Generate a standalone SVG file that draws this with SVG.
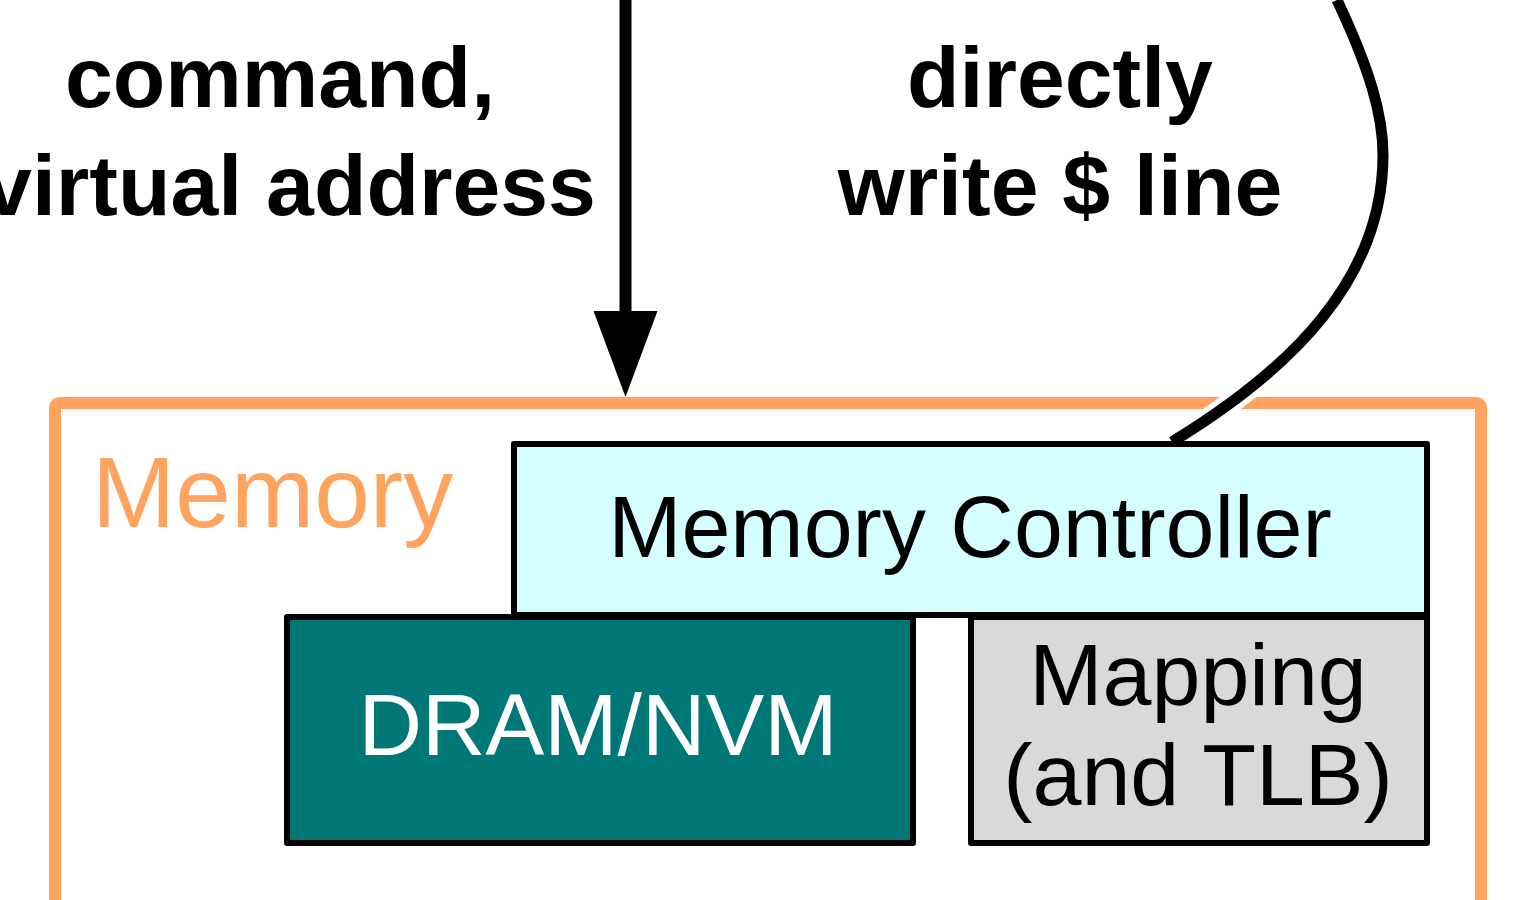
<svg xmlns="http://www.w3.org/2000/svg" width="1527" height="900" viewBox="0 0 1527 900">
<style>
.lbl{font-family:"Liberation Sans",Arial,sans-serif;font-weight:bold;font-size:86px;fill:#000;text-anchor:middle}
.box{stroke:#000;stroke-width:6;stroke-linejoin:round}
.bt{font-family:"Liberation Sans",Arial,sans-serif;font-size:88px;text-anchor:middle}
</style>
<defs>
<marker id="ah" markerUnits="userSpaceOnUse" markerWidth="86" markerHeight="64" refX="19" refY="32" orient="auto" viewBox="0 0 86 64">
<path d="M0,0 L86,32 L0,64 Z" fill="#000"/>
</marker>
</defs>
<rect width="1527" height="900" fill="#fff"/>
<g id="memory">
<rect x="55" y="403" width="1426" height="620" rx="5" fill="none" stroke="#FFA35F" stroke-width="12"/>
<text x="92" y="527" font-family="Liberation Sans,Arial,sans-serif" font-size="100" fill="#FFA35F">Memory</text>
</g>
<g id="connectors">
<line x1="625.5" y1="0" x2="625.5" y2="330" stroke="#000" stroke-width="12" marker-end="url(#ah)"/>
<path d="M1337,0 C1370,70 1383,115 1383,155 C1383,280 1290,370 1172,442" fill="none" stroke="#fff" stroke-width="22"/>
<path d="M1337,0 C1370,70 1383,115 1383,155 C1383,280 1290,370 1172,442" fill="none" stroke="#000" stroke-width="11"/>
<text class="lbl" x="280" y="107">command,</text>
<text class="lbl" x="290" y="215">virtual address</text>
<text class="lbl" x="1060" y="107">directly</text>
<text class="lbl" x="1060" y="215">write $ line</text>
</g>
<g id="controller">
<rect class="box" x="514" y="444" width="913" height="171" fill="#D5FFFF"/>
<text class="bt" x="970" y="557" fill="#000">Memory Controller</text>
</g>
<g id="dram">
<rect class="box" x="287" y="617" width="626" height="226" fill="#007777"/>
<text class="bt" x="598" y="755" fill="#fff">DRAM/NVM</text>
</g>
<g id="mapping">
<rect class="box" x="971" y="617" width="456" height="226" fill="#D9D9D9"/>
<text class="bt" x="1198" y="705" fill="#000">Mapping</text>
<text class="bt" x="1198" y="805" fill="#000">(and TLB)</text>
</g>
</svg>
